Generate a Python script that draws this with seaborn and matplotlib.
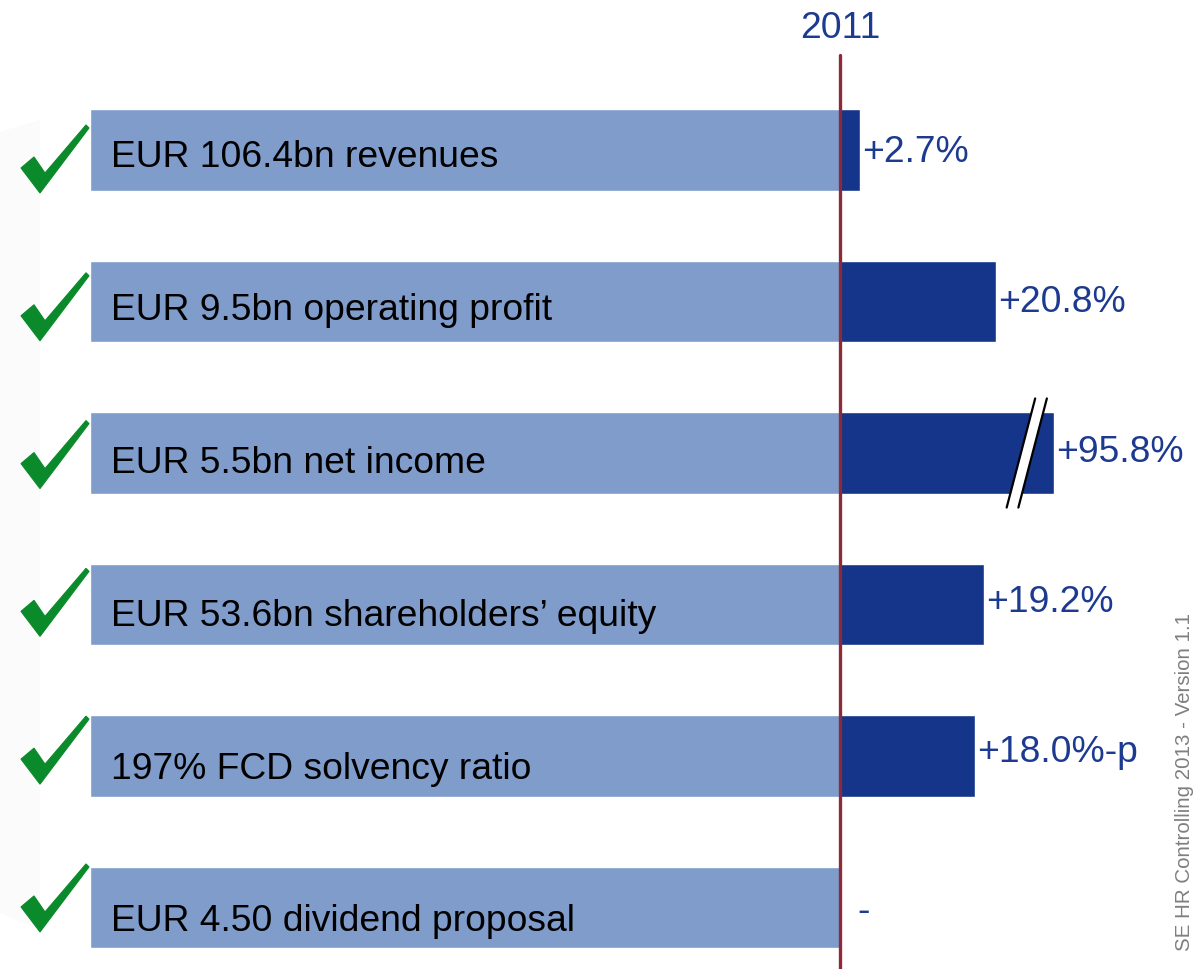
import numpy as np
import pandas as pd
import matplotlib.pyplot as plt
import seaborn as sns

# KPI rows (top to bottom)
labels = ["EUR 106.4bn revenues", "EUR 9.5bn operating profit", "EUR 5.5bn net income",
          "EUR 53.6bn shareholders\u2019 equity", "197% FCD solvency ratio", "EUR 4.50 dividend proposal"]
changes = [2.7, 20.8, 95.8, 19.2, 18.0, np.nan]
change_text = ["+2.7%", "+20.8%", "+95.8%", "+19.2%", "+18.0%-p", "-"]
base_value = 100.0      # light bar = 2011 level (indexed)
axis_cap = 28.5         # bars longer than this get a broken end
year_label = "2011"
footer = "SE HR Controlling 2013 - Version 1.1"

light = "#7f9ccb"
dark = "#14358a"
txt_blue = "#1c3a8f"
line_red = "#8b2a3a"
green = "#0a8a2a"

sns.set_theme(style="white")
plt.rcParams['font.family'] = ['Liberation Sans', 'DejaVu Sans']

df = pd.DataFrame({"label": labels, "change": changes})
df["base"] = -base_value
df["shown"] = df["change"].clip(upper=axis_cap)

W, H = 1198, 969
fig = plt.figure(figsize=(W / 100, H / 100), dpi=100)

# faint grey panel behind the check marks
fig.patches.append(plt.Polygon([(0, 1 - 132 / H), (40 / W, 1 - 120 / H), (40 / W, 1 - 930 / H), (0, 1 - 913 / H)],
                               closed=True, transform=fig.transFigure, facecolor="#fbfbfb",
                               edgecolor="none", zorder=-5))

ax = fig.add_axes([0, 0, 1, 1])
ax.patch.set_alpha(0)

sns.barplot(data=df, x="base", y="label", orient="h", color=light, width=0.535,
            saturation=1, errorbar=None, ax=ax)
sns.barplot(data=df, x="shown", y="label", orient="h", color=dark, width=0.535,
            saturation=1, errorbar=None, ax=ax)

ax.set_xlim(-112, 47.73)
ax.set_ylim(5.406, -0.99)
ax.axis("off")

# vertical 2011 line
ax.axvline(0, ymin=0, ymax=1 - 55 / H, color=line_red, lw=2.4, zorder=5)
ax.text(0, -0.80, year_label, ha="center", va="center", fontsize=26.8, color=txt_blue)

# check mark shape (x in axis units, y in row fractions)
check_x = np.array([21, 34, 45, 86, 89, 40]) / 7.5 - 112
check_y = (np.array([168, 157, 173, 125, 128, 193]) - 150) / 151.5

for i, row in df.iterrows():
    ax.text(-97.2, i + (17 + 1.4 * i) / 151.5, row["label"], ha="left", va="baseline",
            fontsize=26.8, color="black")
    ax.add_patch(plt.Polygon(np.column_stack([check_x, check_y + i - 0.0245 * i]),
                             closed=True, facecolor=green, edgecolor=green, lw=0.8, zorder=4))
    if np.isnan(row["change"]):
        ax.text(2.27, i + 14 / 151.5, change_text[i], ha="left", va="baseline",
                fontsize=26.8, color=txt_blue)
    else:
        ax.text(row["shown"] + 0.3, i + (12 - 1.5 * i) / 151.5, change_text[i], ha="left",
                va="baseline", fontsize=26.8, color=txt_blue)
    if row["change"] > axis_cap:
        # break marker on the capped bar
        xc = row["shown"] - 3.6
        dx, dy, w = 1.9, 0.36, 0.78
        band = plt.Polygon([(xc - dx - w, i + dy), (xc + dx - w, i - dy),
                            (xc + dx + w, i - dy), (xc - dx + w, i + dy)],
                           closed=True, facecolor="white", edgecolor="none", zorder=6)
        ax.add_patch(band)
        for s in (-w, w):
            ax.plot([xc - dx + s, xc + dx + s], [i + dy, i - dy], color="black", lw=1.6, zorder=7)

fig.text(0.989, 1 - 782 / H, footer, rotation=90, ha="center", va="center",
         fontsize=14.8, color="#7f7f7f")

fig.savefig("out.png", dpi=100)
